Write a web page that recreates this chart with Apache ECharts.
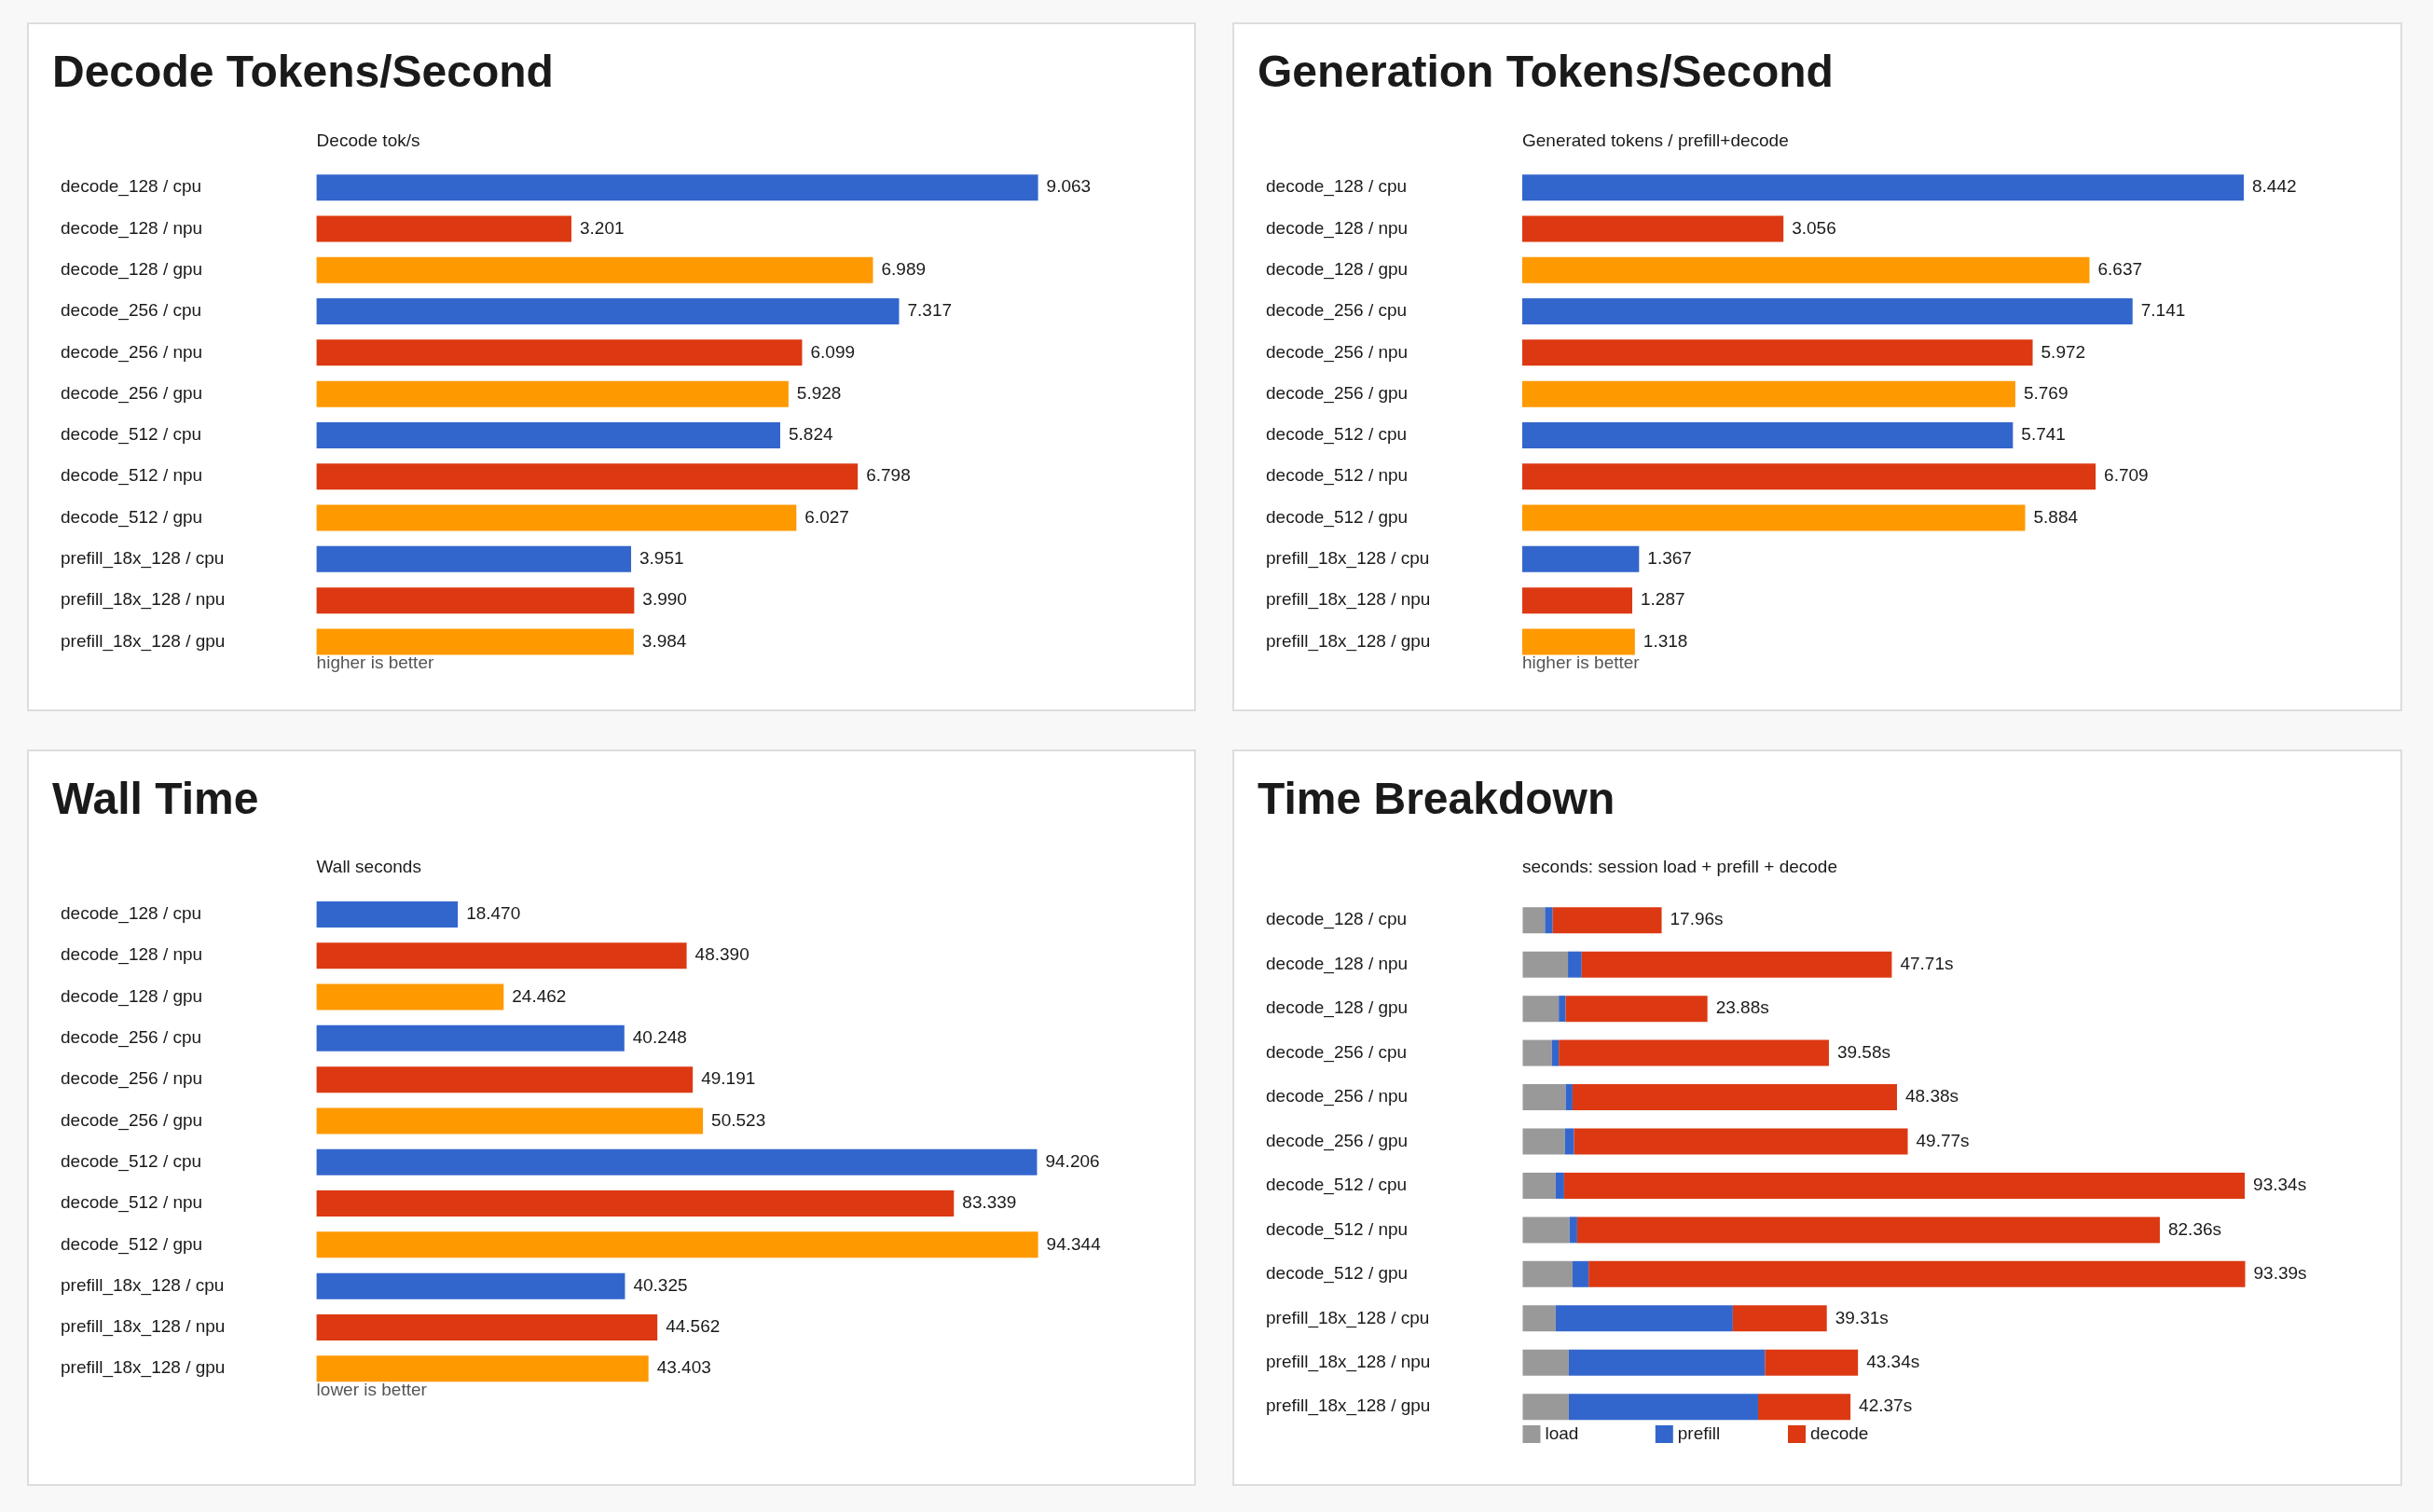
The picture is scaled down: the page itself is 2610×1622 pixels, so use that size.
<!DOCTYPE html>
<html><head><meta charset="utf-8">
<script src="https://cdn.jsdelivr.net/npm/echarts@6/dist/echarts.min.js"></script>
<style>html,body{margin:0;padding:0;background:#f8f8f8;} #c{width:2610px;height:1622px;}</style>
</head><body><div id="c"></div>
<script>
const categories = [
  'decode_128 / cpu', 'decode_128 / npu', 'decode_128 / gpu',
  'decode_256 / cpu', 'decode_256 / npu', 'decode_256 / gpu',
  'decode_512 / cpu', 'decode_512 / npu', 'decode_512 / gpu',
  'prefill_18x_128 / cpu', 'prefill_18x_128 / npu', 'prefill_18x_128 / gpu'
];
const decodeTokS = [9.063, 3.201, 6.989, 7.317, 6.099, 5.928, 5.824, 6.798, 6.027, 3.951, 3.990, 3.984];
const generatedTokS = [8.442, 3.056, 6.637, 7.141, 5.972, 5.769, 5.741, 6.709, 5.884, 1.367, 1.287, 1.318];
const wallSeconds = [18.470, 48.390, 24.462, 40.248, 49.191, 50.523, 94.206, 83.339, 94.344, 40.325, 44.562, 43.403];
const loadSec    = [2.88, 5.85, 4.66, 3.77, 5.55, 5.45, 4.26, 6.05, 6.44, 4.26, 5.95, 5.95];
const prefillSec = [1.00, 1.78, 0.89, 0.89, 0.89, 1.19, 1.09, 0.99, 2.08, 22.90, 25.37, 24.48];
const decodeSec  = [14.08, 40.08, 18.33, 34.92, 41.94, 43.13, 87.99, 75.32, 84.87, 12.15, 12.02, 11.94];
const totalSec   = [17.96, 47.71, 23.88, 39.58, 48.38, 49.77, 93.34, 82.36, 93.39, 39.31, 43.34, 42.37];
const segmentNames = ['load', 'prefill', 'decode'];

const FONT = '"Liberation Sans", Arial, Helvetica, sans-serif';
const deviceColors = { cpu: '#3366cc', npu: '#dc3912', gpu: '#ff9900' };
const segColors = ['#999999', '#3366cc', '#dc3912'];
const deviceOf = name => name.split('/').pop().trim();

const panels = [
  { x: 30, y: 25, w: 1252, h: 737 },
  { x: 1323, y: 25, w: 1253, h: 737 },
  { x: 30, y: 805, w: 1252, h: 788 },
  { x: 1323, y: 805, w: 1253, h: 788 }
];
const grids = [
  { left: 339.6, top: 179, width: 774, height: 531.6 },
  { left: 1633, top: 179, width: 774, height: 531.6 },
  { left: 339.6, top: 958.8, width: 774, height: 531.6 },
  { left: 1633.5, top: 963.5, width: 775, height: 569.4 }
];

const graphic = [];
panels.forEach(p => graphic.push({
  type: 'rect', z: -10, silent: true,
  shape: { x: p.x, y: p.y, width: p.w, height: p.h },
  style: { fill: '#ffffff', stroke: '#dddddd', lineWidth: 2 }
}));
function txt(text, x, y, size, weight, color) {
  graphic.push({ type: 'text', silent: true, x: x, y: y,
    style: { text: text, fontSize: size, fontWeight: weight, fontFamily: FONT, fill: color, align: 'left', verticalAlign: 'middle' } });
}
txt('Decode Tokens/Second', 56, 80, 48, 'bold', '#1a1a1a');
txt('Generation Tokens/Second', 1349, 80, 48, 'bold', '#1a1a1a');
txt('Wall Time', 56, 860, 48, 'bold', '#1a1a1a');
txt('Time Breakdown', 1349, 860, 48, 'bold', '#1a1a1a');
txt('Decode tok/s', 339.6, 152, 19, 'normal', '#1a1a1a');
txt('Generated tokens / prefill+decode', 1633, 152, 19, 'normal', '#1a1a1a');
txt('Wall seconds', 339.6, 931, 19, 'normal', '#1a1a1a');
txt('seconds: session load + prefill + decode', 1633, 931, 19, 'normal', '#1a1a1a');
txt('higher is better', 339.6, 712, 19, 'normal', '#555555');
txt('higher is better', 1633, 712, 19, 'normal', '#555555');
txt('lower is better', 339.6, 1492, 19, 'normal', '#555555');

const xAxis = grids.map((g, i) => ({ type: 'value', gridIndex: i, min: 0, max: 'dataMax', show: false }));
const yAxis = grids.map((g, i) => ({
  type: 'category', gridIndex: i, data: categories, inverse: true,
  axisLine: { show: false }, axisTick: { show: false }, splitLine: { show: false },
  axisLabel: { interval: 0, align: 'left', margin: g.left - (i % 2 === 0 ? 65 : 1358),
    fontSize: 19, color: '#1a1a1a', fontFamily: FONT, padding: [3, 0, 0, 0] }
}));

function simpleBar(idx, data) {
  return {
    type: 'bar', name: 'm' + idx, xAxisIndex: idx, yAxisIndex: idx, data: data,
    barWidth: 28,
    itemStyle: { color: p => deviceColors[deviceOf(categories[p.dataIndex])] },
    label: { show: true, position: 'right', distance: 9, fontSize: 19, color: '#1a1a1a', fontFamily: FONT,
      padding: [3, 0, 0, 0], formatter: p => Number(p.value).toFixed(3) }
  };
}
const series = [
  simpleBar(0, decodeTokS),
  simpleBar(1, generatedTokS),
  simpleBar(2, wallSeconds)
];
[loadSec, prefillSec, decodeSec].forEach((arr, k) => {
  const s = {
    type: 'bar', name: segmentNames[k], stack: 'tb', xAxisIndex: 3, yAxisIndex: 3,
    data: arr, barWidth: 28, itemStyle: { color: segColors[k] }
  };
  if (k === 2) {
    s.label = { show: true, position: 'right', distance: 9, fontSize: 19, color: '#1a1a1a', fontFamily: FONT,
      padding: [3, 0, 0, 0], formatter: p => totalSec[p.dataIndex].toFixed(2) + 's' };
  }
  series.push(s);
});

const legendLefts = [1633.5, 1775.8, 1918];
const legend = segmentNames.map((n, k) => ({
  data: [n], left: legendLefts[k], top: 1529, orient: 'horizontal', padding: 0,
  itemWidth: 19, itemHeight: 19, itemGap: 0, icon: 'rect', selectedMode: false,
  textStyle: { fontSize: 19, color: '#1a1a1a', fontFamily: FONT, padding: [3, 0, 0, 0] }
}));

const chart = echarts.init(document.getElementById('c'), null, { renderer: 'canvas' });
chart.setOption({
  animation: false,
  backgroundColor: '#f8f8f8',
  textStyle: { fontFamily: FONT },
  graphic: graphic,
  grid: grids,
  xAxis: xAxis,
  yAxis: yAxis,
  legend: legend,
  series: series
});
</script>
</body></html>
